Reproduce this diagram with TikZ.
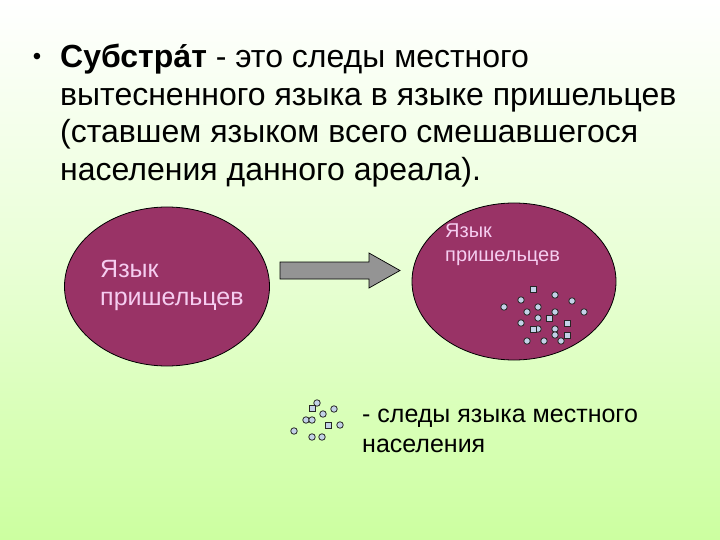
\documentclass[tikz,border=0pt]{standalone}
\usepackage{fontspec}
\setmainfont{Liberation Sans}
\usetikzlibrary{shapes.geometric}
\definecolor{bggreen}{RGB}{204,255,160}
\definecolor{plum}{RGB}{153,51,102}
\definecolor{pinktext}{RGB}{245,205,240}
\definecolor{dotfill}{RGB}{195,210,232}
\begin{document}
\begin{tikzpicture}[
  x=1pt, y=-1pt,
  line/.style={anchor=base west, inner sep=0, font=\fontsize{32}{37}\selectfont},
  area/.style={ellipse, draw=black, line width=0.8pt, fill=plum, inner sep=0},
  areatext/.style={anchor=base west, inner sep=0, text=pinktext, align=left},
  dot/.style={circle, draw=black!85, line width=0.8pt, fill=dotfill, minimum size=6.5pt, inner sep=0},
  sqdot/.style={rectangle, draw=black!85, line width=0.8pt, fill=dotfill, minimum size=6pt, inner sep=0}
]
% Background
\useasboundingbox (0,0) rectangle (720,540);
\shade[top color=white, bottom color=bggreen, middle color=bggreen!45] (0,0) rectangle (720,540);

% Definition text
\node (bullet) at (37,59) [inner sep=0, font=\fontsize{24}{28}\selectfont] {•};
\node (line1) at (60,68) [line] {\textbf{Субстра́т} - это следы местного};
\node (line2) at (60,106) [line] {вытесненного языка в языке пришельцев};
\node (line3) at (60,143) [line] {(ставшем языком всего смешавшегося};
\node (line4) at (60,181) [line] {населения данного ареала).};

% Language areas
\node (before) at (167,286.5) [area, minimum width=205pt, minimum height=159pt] {};
\node (after) at (514,281.5) [area, minimum width=204pt, minimum height=157pt] {};
\node (before-text) at (100,277) [areatext, font=\fontsize{25}{28}\selectfont] {Язык};
\node (before-text2) at (100,305) [areatext, font=\fontsize{25}{28}\selectfont] {пришельцев};
\node (after-text) at (445,237) [areatext, font=\fontsize{20}{24}\selectfont] {Язык};
\node (after-text2) at (445,261) [areatext, font=\fontsize{20}{24}\selectfont] {пришельцев};

% Arrow
\coordinate (arrow-tip) at (400,270.5);
\draw[black, line width=0.7pt, fill=black!42] (280,262) -- (369,262) -- (369,253) -- (arrow-tip)
  -- (369,288) -- (369,279) -- (280,279) -- cycle;

% Traces inside the new area
\foreach \x/\y [count=\i] in {555/295, 521/300, 572/301, 504/307, 538/307, 527/312, 555/312,
  584/312, 538/318, 521/323, 538/329, 555/329, 555/335, 527/341, 544/341, 561/341}
  \node (r\i) at (\x,\y) [dot] {};
\foreach \x/\y [count=\i] in {533/289, 549/318, 567/323, 533/329, 567/335}
  \node (rs\i) at (\x,\y) [sqdot] {};

% Legend
\foreach \x/\y [count=\i] in {317/403, 323/414, 334/409, 306/420, 312/420, 340/425, 294/431, 312/437, 322/437}
  \node (l\i) at (\x,\y) [dot] {};
\foreach \x/\y [count=\i] in {312/408, 328/425}
  \node (ls\i) at (\x,\y) [sqdot] {};
\node (legend) at (362,422) [anchor=base west, inner sep=0, font=\fontsize{25}{30}\selectfont] {- следы языка местного};
\node (legend2) at (362,452) [anchor=base west, inner sep=0, font=\fontsize{25}{30}\selectfont] {населения};
\end{tikzpicture}
\end{document}
